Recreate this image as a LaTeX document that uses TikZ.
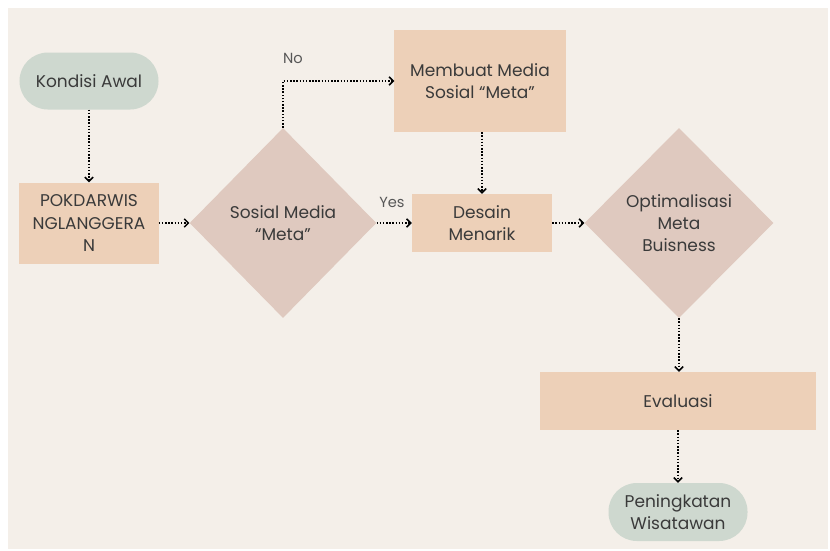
\documentclass[tikz,border=0pt]{standalone}
\usepackage{fontspec}
\setmainfont{Poppins}
\usetikzlibrary{shapes.geometric,arrows.meta}
\definecolor{cream}{HTML}{F4EFE9}
\definecolor{sage}{HTML}{CED8CF}
\definecolor{peach}{HTML}{EDD0B8}
\definecolor{rose}{HTML}{DFC9BF}
\definecolor{ink}{HTML}{3A3A3A}
\begin{document}
\begin{tikzpicture}[x=0.03cm,y=-0.03cm,
    every node/.style={text=ink,align=center,inner sep=0pt,
      font=\fontsize{14.5}{19}\selectfont},
    pill/.style={fill=sage,rounded corners=0.85cm},
    box/.style={fill=peach},
    choice/.style={diamond,fill=rose},
    flow/.style={line width=1.3pt,dash pattern=on 1.3pt off 1.4pt,
      -{Straight Barb[length=3.5pt,width=7pt,line width=1.3pt]}},
    tag/.style={text=ink!85,font=\fontsize{12.5}{14}\selectfont}]
    \useasboundingbox[fill=white] (0,0) rectangle (830,550);
    \fill[cream] (8,8) rectangle (828,549);

    % left column
    \node[pill,minimum width=4.17cm,minimum height=1.71cm] (awal) at (89,81) {Kondisi Awal};
    \node[box,minimum width=4.17cm,minimum height=2.43cm] (pokdar) at (89,223) {POKDARWIS\\NGLANGGERA\\N};

    % decision and branches
    \node[choice,minimum width=5.6cm,minimum height=5.7cm] (sosmed) at (283,223) {Sosial Media\\“Meta”};
    \node[box,minimum width=5.13cm,minimum height=3.06cm] (membuat) at (480,81) {Membuat Media\\Sosial “Meta”};
    \node[box,minimum width=4.2cm,minimum height=1.74cm] (desain) at (482,223) {Desain\\Menarik};
    \node[choice,minimum width=5.67cm,minimum height=5.7cm] (optim) at (679,223) {Optimalisasi\\Meta\\Buisness};

    % bottom of the flow
    \node[box,minimum width=8.25cm,minimum height=1.74cm] (eval) at (678,401) {Evaluasi};
    \node[pill,minimum width=4.17cm,minimum height=1.74cm] (naik) at (678,512) {Peningkatan\\Wisatawan};

    \node[tag] (no) at (293,58) {No};
    \node[tag] (yes) at (392,202) {Yes};

    \draw[flow] (awal) -- (pokdar);
    \draw[flow] (pokdar) -- (sosmed);
    \draw[flow] (sosmed.north) |- (membuat.west);
    \draw[flow] (sosmed) -- (desain);
    \draw[flow] (membuat.south -| desain.north) -- (desain.north);
    \draw[flow] (desain) -- (optim);
    \draw[flow] (optim.south) -- (eval.north -| optim.south);
    \draw[flow] (eval) -- (naik);
  \end{tikzpicture}
\end{document}
